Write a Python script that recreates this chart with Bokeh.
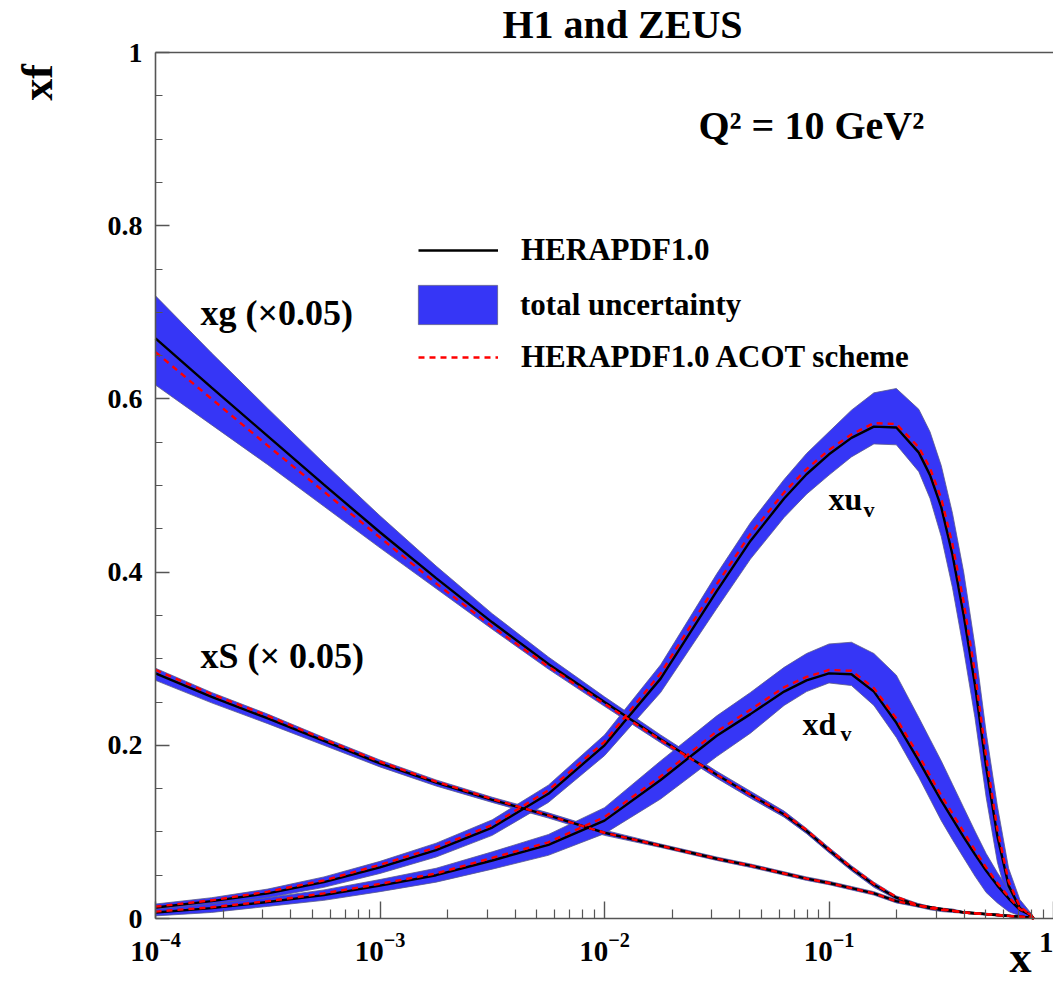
from bokeh.plotting import figure
from bokeh.models import (Range1d, FixedTicker, Label, Legend, LegendItem, LogAxis,
                          LinearAxis, LogTickFormatter, CustomJSTickFormatter)
from bokeh.embed import file_html
from bokeh.resources import INLINE

# ---------------- data ----------------
LOG10_X = [-4, -3.75, -3.5, -3.25, -3, -2.75, -2.5, -2.25, -2, -1.75, -1.5, -1.35, -1.2,
           -1.1, -1.0, -0.9, -0.8, -0.7, -0.6, -0.55, -0.5, -0.45, -0.4, -0.35, -0.3,
           -0.25, -0.2, -0.15, -0.1, -0.088]

# xg (x 0.05)
G = [.670, .613, .557, .501, .446, .393, .342, .294, .250, .207, .166, .143, .120, .101, .079,
     .058, .039, .024, .015, .012, .010, .009, .007, .006, .005, .004, .003, .002, .001, 0]
G_UP = [.049, .040, .032, .025, .019, .014, .010, .008, .006, .005, .004, .004, .004, .003, .003,
        .003, .003, .002, .002, .002, .002, .002, .001, .001, .001, .001, .001, .001, 0, 0]
G_DN = [.054, .043, .033, .025, .018, .012, .008, .006, .005, .004, .004, .004, .003, .003, .003,
        .003, .003, .002, .002, .002, .002, .002, .001, .001, .001, .001, .001, .001, 0, 0]
G_ACOT = [.654, .600, .546, .493, .440, .387, .337, .291, .248, .206, .166, .143, .121, .102, .080,
          .059, .040, .025, .015, .012, .010, .009, .007, .006, .005, .004, .003, .002, .001, 0]

# xS (x 0.05)
S = [.283, .256, .231, .205, .179, .157, .137, .119, .099, .084, .069, .061, .052, .046, .041,
     .035, .029, .020, .015, .013, .011, .009, .007, .006, .005, .004, .003, .002, .001, 0]
S_UP = [.006, .005, .005, .004, .004, .003, .003, .003, .003, .002, .002, .002, .002, .002, .002,
        .002, .002, .002, .002, .001, .001, .001, .001, .001, .001, .001, .001, .001, 0, 0]
S_DN = [.008, .007, .006, .005, .004, .004, .003, .003, .003, .002, .002, .002, .002, .002, .002,
        .002, .002, .002, .002, .001, .001, .001, .001, .001, .001, .001, .001, .001, 0, 0]
S_ACOT = [.287, .259, .234, .207, .181, .158, .138, .119, .099, .084, .069, .061, .052, .046, .041,
          .035, .029, .020, .015, .013, .011, .009, .007, .006, .005, .004, .003, .002, .001, 0]

# xu_v
U = [.0127, .020, .029, .042, .059, .079, .105, .144, .200, .277, .378, .436, .485, .513, .536,
     .555, .568, .567, .538, .512, .475, .420, .350, .270, .175, .095, .038, .012, .003, 0]
U_UP = [.004, .004, .005, .006, .007, .008, .009, .010, .012, .016, .020, .021, .022, .024, .026,
        .032, .039, .045, .050, .050, .048, .048, .050, .045, .040, .035, .020, .010, .003, 0]
U_DN = [.004, .004, .005, .006, .007, .008, .009, .010, .012, .016, .020, .021, .022, .023, .024,
        .022, .020, .020, .022, .027, .034, .038, .040, .038, .035, .030, .020, .010, .003, 0]
U_ACOT = [.0137, .021, .031, .044, .062, .082, .108, .148, .204, .283, .386, .444, .492, .519, .541,
          .559, .572, .571, .544, .520, .485, .432, .365, .284, .187, .103, .043, .014, .003, 0]

# xd_v
D = [.007, .012, .019, .027, .038, .050, .067, .085, .113, .160, .211, .236, .262, .275, .283,
     .282, .262, .226, .182, .159, .136, .115, .094, .074, .055, .038, .023, .010, .004, 0]
D_UP = [.004, .005, .005, .006, .007, .008, .010, .012, .015, .022, .023, .025, .028, .031, .034,
        .037, .044, .055, .050, .048, .046, .040, .034, .027, .020, .015, .010, .005, .002, 0]
D_DN = [.004, .005, .005, .006, .007, .008, .010, .012, .015, .022, .024, .022, .016, .013, .011,
        .013, .016, .017, .019, .021, .023, .024, .024, .025, .025, .020, .015, .007, .002, 0]
D_ACOT = [.008, .013, .020, .029, .040, .052, .070, .088, .117, .164, .216, .241, .267, .279, .287,
          .286, .266, .231, .188, .165, .142, .121, .100, .079, .059, .041, .025, .011, .004, 0]

X_MAJOR = [1e-4, 1e-3, 1e-2, 1e-1, 1.0]
X_MINOR = [m * t for t in [1e-4, 1e-3, 1e-2, 1e-1] for m in range(2, 10)]
Y_MAJOR = [0.0, 0.2, 0.4, 0.6, 0.8, 1.0]
Y_MINOR = [0.05, 0.1, 0.15, 0.25, 0.3, 0.35, 0.45, 0.5, 0.55, 0.65, 0.7, 0.75, 0.85, 0.9, 0.95]

TITLE = "H1 and ZEUS"
SCALE_TEXT = "Q\u00b2 = 10 GeV\u00b2"
LEG_LABELS = ["HERAPDF1.0", "total uncertainty", "HERAPDF1.0 ACOT scheme"]

X = [10 ** v for v in LOG10_X]

# ---------------- layout (pixels) ----------------
W, H = 1053, 985
FX0, FY_TOP, FY0 = 155, 52, 918          # x=1e-4, y=1, y=0 positions
DEC = (W - FX0) / 4.0                      # pixels per decade
PY = (FY0 - FY_TOP) / 1.0                  # pixels per unit of y
x_start = 10 ** (-4 - FX0 / DEC)
y_start = -(H - FY0) / PY
y_end = 1 + FY_TOP / PY

FONT = "Liberation Serif"
BAND = "#3636f6"
AXC = "#555555"

p = figure(width=W, height=H, x_axis_type="log", x_axis_location=None, y_axis_location=None,
           x_range=Range1d(x_start, 1.0), y_range=Range1d(y_start, y_end),
           output_backend="svg", toolbar_location=None,
           min_border_left=0, min_border_right=0, min_border_top=0, min_border_bottom=0)
p.grid.visible = False
p.outline_line_color = None
p.background_fill_color = "white"
p.border_fill_color = "white"


def style(ax):
    ax.axis_line_color = AXC
    ax.axis_line_width = 1.6
    ax.major_tick_line_color = AXC
    ax.major_tick_line_width = 1.4
    ax.minor_tick_line_color = AXC
    ax.minor_tick_line_width = 1.2
    ax.major_tick_out = 0
    ax.minor_tick_out = 0
    ax.major_label_text_font = FONT
    ax.major_label_text_font_style = "bold"
    ax.major_label_text_font_size = "29px"
    ax.major_label_text_color = "black"


xa = LogAxis(fixed_location=0, bounds=(1e-4, 1.0),
             ticker=FixedTicker(ticks=X_MAJOR, minor_ticks=X_MINOR),
             formatter=LogTickFormatter())
style(xa)
xa.major_label_overrides = {1: "1"}
xa.major_tick_in = 17
xa.minor_tick_in = 9
xa.major_label_standoff = 14
p.add_layout(xa, "below")

ya = LinearAxis(fixed_location=1e-4, bounds=(0, 1),
                ticker=FixedTicker(ticks=Y_MAJOR, minor_ticks=Y_MINOR),
                formatter=CustomJSTickFormatter(code="return (Math.round(tick*10)/10).toString();"))
style(ya)
ya.major_label_text_font_size = "28px"
ya.major_tick_in = 14
ya.minor_tick_in = 7
ya.major_label_standoff = 13
p.add_layout(ya, "left")

top = LogAxis(fixed_location=1, bounds=(1e-4, 1.0), ticker=FixedTicker(ticks=[]),
              axis_line_color=AXC, axis_line_width=1.6, major_label_text_font_size="0px")
p.add_layout(top, "above")

curves = [(G, G_UP, G_DN, G_ACOT), (S, S_UP, S_DN, S_ACOT),
          (U, U_UP, U_DN, U_ACOT), (D, D_UP, D_DN, D_ACOT)]

band_rs, line_rs, dash_rs = [], [], []
for c, up, dn, ac in curves:
    hi = [v + e for v, e in zip(c, up)]
    lo = [max(v - e, 0.0) for v, e in zip(c, dn)]
    band_rs.append(p.patch(X + X[::-1], hi + lo[::-1], fill_color=BAND,
                           line_color="#5a5a8a", line_width=0.8))
for c, up, dn, ac in curves:
    line_rs.append(p.line(X, c, line_color="black", line_width=2.4))
for c, up, dn, ac in curves:
    dash_rs.append(p.line(X, ac, line_color="#ff0000", line_width=2.4, line_dash="6 5"))


def leg(label, rend, loc, gw, gh, standoff):
    p.add_layout(Legend(items=[LegendItem(label=label, renderers=[rend])],
                        location=loc, glyph_width=gw, glyph_height=gh,
                        label_standoff=standoff, padding=0, margin=0,
                        border_line_color=None, background_fill_alpha=0,
                        label_text_font=FONT, label_text_font_style="bold",
                        label_text_font_size="31px", label_text_color="black",
                        label_height=gh))


leg(LEG_LABELS[0], line_rs[0], (418, H - 270), 80, 40, 23)
leg(LEG_LABELS[1], band_rs[0], (408, H - 329), 99, 49, 13)
leg(LEG_LABELS[2], dash_rs[0], (418, H - 377), 80, 40, 23)


def lab(text, x, base, size, angle=0.0, align="left", baseline="alphabetic"):
    # x: pixels from the canvas' left edge; base: text baseline in pixels from the top
    px = float(size.replace("px", ""))
    y = base - 0.36 * px if baseline == "alphabetic" else base
    p.add_layout(Label(x=x, y=H - y, x_units="screen", y_units="screen", text=text,
                       angle=angle, text_font=FONT, text_font_style="bold",
                       text_font_size=size, text_color="black", text_align=align,
                       text_baseline=baseline))


lab(TITLE, 622, 38, "40px", align="center")
lab(SCALE_TEXT, 698, 139, "40px")
lab("xg (\u00d70.05)", 200, 325, "36px")
lab("xS (\u00d7 0.05)", 200, 668, "36px")
lab("xu", 828, 510, "32px")
lab("v", 863, 517, "22px")
lab("xd", 802, 735, "32px")
lab("v", 840, 741, "22px")
lab("xf", 37, 82, "44px", angle=1.5708, align="center", baseline="middle")
lab("x", 1020, 973, "44px", align="center")

open("out.html", "w").write(file_html(p, INLINE))
